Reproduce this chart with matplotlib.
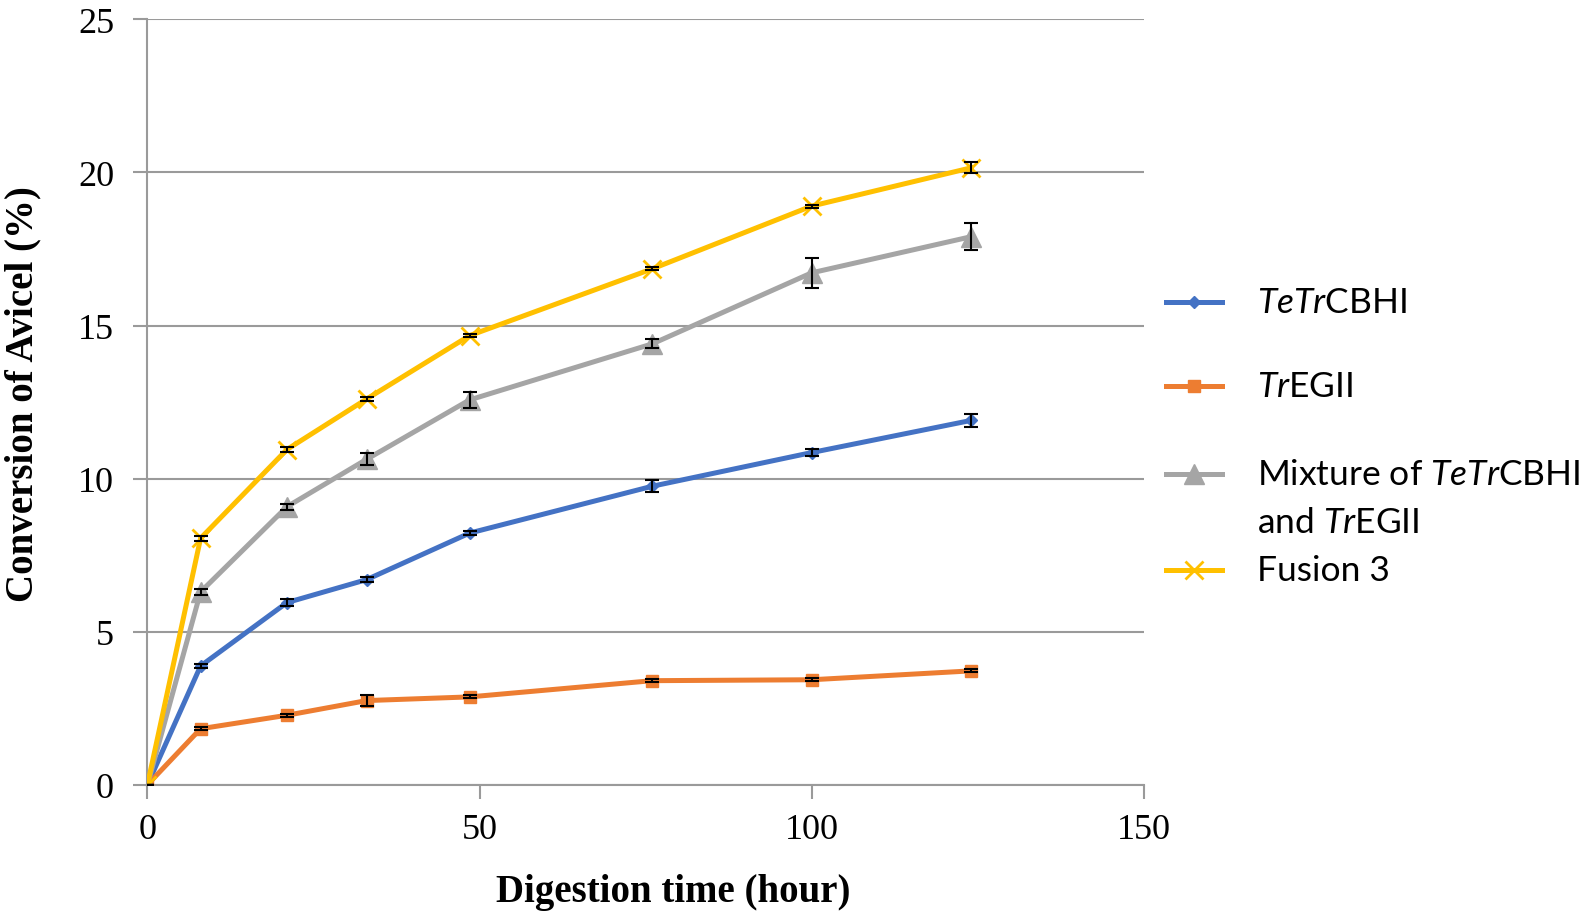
import numpy as np
import matplotlib
matplotlib.use('Agg')
import matplotlib.pyplot as plt
from matplotlib.lines import Line2D

plt.rcParams['mathtext.fontset'] = 'custom'
plt.rcParams['mathtext.rm'] = 'Lato'
plt.rcParams['mathtext.it'] = 'Lato:italic'

# digestion time (hour)
hours = [0, 8, 21, 33, 48.5, 76, 100, 124]

# conversion of Avicel (%) and error bars
tetr_cbhi = [0, 3.88, 5.95, 6.7, 8.22, 9.75, 10.85, 11.9]
tetr_cbhi_err = [0, 0.07, 0.12, 0.07, 0.07, 0.2, 0.12, 0.2]
tr_egii = [0, 1.83, 2.27, 2.75, 2.87, 3.4, 3.43, 3.72]
tr_egii_err = [0, 0.05, 0.05, 0.18, 0.05, 0.05, 0.05, 0.05]
mixture = [0, 6.3, 9.08, 10.63, 12.57, 14.4, 16.72, 17.9]
mixture_err = [0, 0.1, 0.1, 0.2, 0.25, 0.15, 0.5, 0.45]
fusion3 = [0, 8.05, 10.95, 12.6, 14.67, 16.85, 18.9, 20.15]
fusion3_err = [0, 0.08, 0.08, 0.08, 0.05, 0.05, 0.05, 0.18]

series = [
    (tetr_cbhi, tetr_cbhi_err, '#4472C4', 'D', 6, ['$\\mathit{TeTr}$CBHI']),
    (tr_egii, tr_egii_err, '#ED7D31', 's', 8, ['$\\mathit{Tr}$EGII']),
    (mixture, mixture_err, '#A5A5A5', '^', 14, ['Mixture of $\\mathit{TeTr}$CBHI', 'and $\\mathit{Tr}$EGII']),
    (fusion3, fusion3_err, '#FFC000', 'x', 13, ['Fusion 3']),
]

fig = plt.figure(figsize=(15.94, 9.2), dpi=100)
ax = fig.add_axes([0.0925, 0.1459, 0.625, 0.832])

for vals, err, col, mk, ms, lab in series:
    ax.plot(hours, vals, color=col, lw=3.6, marker=mk, markersize=ms,
            markeredgewidth=2 if mk == 'x' else 1, zorder=3)
    ax.errorbar(hours, vals, yerr=err, fmt='none', ecolor='black',
                elinewidth=1.5, capsize=5, capthick=1.5, zorder=4)

ax.set_xlim(0, 150)
ax.set_ylim(0, 25)
ax.set_xticks([0, 50, 100, 150])
ax.set_yticks([0, 5, 10, 15, 20, 25])
ax.grid(axis='y', color='#9a9a9a', lw=1.5)
ax.set_axisbelow(True)
for s in ['top', 'right']:
    ax.spines[s].set_visible(False)
for s in ['left', 'bottom']:
    ax.spines[s].set_color('#9a9a9a')
    ax.spines[s].set_linewidth(1.5)
ax.tick_params(axis='both', colors='#9a9a9a', length=10, width=1.5, direction='out')
ax.tick_params(axis='both', labelcolor='black', labelsize=26)
ax.tick_params(axis='y', pad=14)
ax.tick_params(axis='x', pad=10)
for lbl in ax.get_xticklabels() + ax.get_yticklabels():
    lbl.set_fontfamily('Liberation Serif')

ax.set_xlabel('Digestion time (hour)', fontfamily='Liberation Serif',
              fontweight='bold', fontsize=28)
ax.set_ylabel('Conversion of Avicel (%)', fontfamily='Liberation Serif',
              fontweight='bold', fontsize=28)
ax.xaxis.set_label_coords(0.528, -0.115)
ax.yaxis.set_label_coords(-0.106, 0.512)

# legend drawn by hand, Excel style
W, H = 1594, 920
leg_y = [303, 387, 475, 571]
for (vals, err, col, mk, ms, lab), yy in zip(series, leg_y):
    y = 1 - yy / H
    fig.add_artist(Line2D([1166 / W, 1222 / W], [y, y], color=col, lw=3.6,
                          transform=fig.transFigure))
    fig.add_artist(Line2D([1194 / W], [y], color=col, marker=mk, markersize=ms,
                          markeredgewidth=2 if mk == 'x' else 1,
                          transform=fig.transFigure))
    for k, line in enumerate(lab):
        fig.text(1257 / W, y - k * 48 / H, line, fontfamily='Lato',
                 fontsize=25.5, va='center', ha='left')

fig.savefig('out.png', dpi=100)
